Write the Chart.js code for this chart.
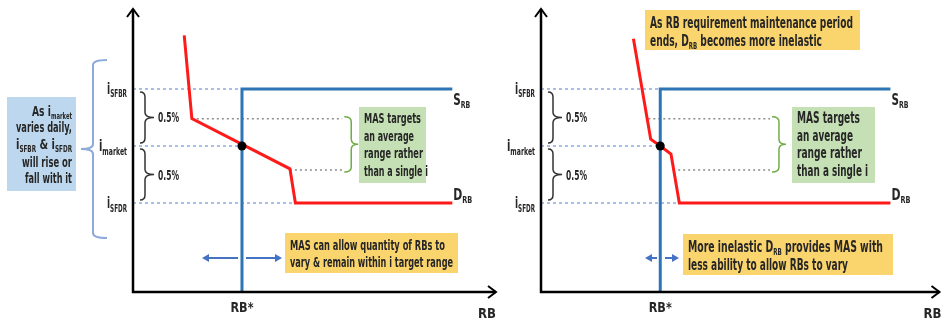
<!DOCTYPE html>
<html lang="en">
<head>
<meta charset="UTF-8">
<title>Reserve balances: SRB and DRB</title>
<script src="https://cdn.jsdelivr.net/npm/chart.js"></script>
<style>
  body { margin: 0; background: #fff; }
  .wrap { position: relative; width: 945px; height: 323px; }
  canvas { position: absolute; top: 0; }
  #left { left: 0; }
  #right { left: 490px; }
</style>
</head>
<body>
<div class="wrap">
  <canvas id="left" width="505" height="323"></canvas>
  <canvas id="right" width="455" height="323"></canvas>
</div>
<script>
const FONT = '"Liberation Sans Narrow", "DejaVu Sans Condensed", "Liberation Sans", Arial, sans-serif';
const INK = '#262626';

// interest rate levels (%), top to bottom
const rateLevels = [2.0, 1.5, 1.0];
const rateNames = ['i_{SFBR}', 'i_{market}', 'i_{SFDR}'];
const targetBand = [1.74, 1.29];
const rbStar = 100;
const xMax = [334, 335];
const yRange = [0.22, 2.71];

// supply of RBs (same in both panels)
const supplyX = [100, 100, 293];
const supplyY = [0.22, 2.0, 2.0];

// demand for RBs, left = normal, right = end of maintenance period
const demandX1 = [47, 54, 144, 149, 293];
const demandY1 = [2.47, 1.74, 1.30, 1.0, 1.0];
const demandX2 = [77.5, 92, 100, 109, 116, 293];
const demandY2 = [2.44, 1.56, 1.5, 1.43, 1.0, 1.0];

// dotted guide lines
const bandStart1 = [54, 144];
const bandStart2 = [90, 115];
const bandEnd = 192;
const sfdrGuideEnd = [149, 116];

function pts(xs, ys) {
  return xs.map((x, i) => ({ x: x, y: ys[i] }));
}

function buildDatasets(dX, dY, bStart, sfdrEnd) {
  const dashBlue = { borderColor: '#8eaadb', borderWidth: 1.5, borderDash: [3, 3], order: 5 };
  const dashGrey = { borderColor: '#8c8c8c', borderWidth: 1.5, borderDash: [2, 3], order: 5 };
  const ds = [];
  [rbStar, rbStar, sfdrEnd].forEach((end, i) => {
    ds.push(Object.assign({ data: pts([0, end], [rateLevels[i], rateLevels[i]]) }, dashBlue));
  });
  targetBand.forEach((r, i) => {
    ds.push(Object.assign({ data: pts([bStart[i], bandEnd], [r, r]) }, dashGrey));
  });
  ds.push({ data: pts(supplyX, supplyY), borderColor: '#2e75b6', borderWidth: 3, order: 3 });
  ds.push({ data: pts(dX, dY), borderColor: '#ff1a1a', borderWidth: 3, order: 2 });
  ds.push({
    data: [{ x: rbStar, y: rateLevels[1] }], showLine: false, order: 1,
    pointRadius: 4.5, pointBackgroundColor: '#000', pointBorderColor: '#000', pointBorderWidth: 0
  });
  ds.forEach(d => {
    if (d.showLine === undefined) d.showLine = true;
    if (d.pointRadius === undefined) d.pointRadius = 0;
    d.fill = false;
    d.borderJoinStyle = 'miter';
    d.clip = false;
  });
  return ds;
}

// text with _{subscript} parts, stretched to width w if given
function drawRich(ctx, str, x, y, size, align, w) {
  const parts = [];
  str.replace(/_\{([^}]*)\}|([^_]+)/g, (m, sub, txt) => {
    parts.push(sub !== undefined ? [sub, true] : [txt, false]);
  });
  const subSize = Math.round(size * 0.6);
  let total = 0;
  parts.forEach(p => {
    ctx.font = 'bold ' + (p[1] ? subSize : size) + 'px ' + FONT;
    p.push(ctx.measureText(p[0]).width);
    total += p[2];
  });
  const k = w ? w / total : 1;
  const width = total * k;
  let sx = x;
  if (align === 'right') sx = x - width;
  if (align === 'center') sx = x - width / 2;
  ctx.save();
  ctx.translate(sx, y);
  ctx.scale(k, 1);
  ctx.fillStyle = INK;
  ctx.textAlign = 'left';
  ctx.textBaseline = 'alphabetic';
  let cx = 0;
  parts.forEach(p => {
    ctx.font = 'bold ' + (p[1] ? subSize : size) + 'px ' + FONT;
    ctx.fillText(p[0], cx, p[1] ? size * 0.22 : 0);
    cx += p[2];
  });
  ctx.restore();
}

// curly brace; dir 1 points right, -1 points left
function brace(ctx, x, y1, y2, w, tip, dir) {
  const m = (y1 + y2) / 2, r = Math.min(5, (y2 - y1) / 5);
  const bx = x + dir * w;
  ctx.beginPath();
  ctx.moveTo(x, y1);
  ctx.quadraticCurveTo(bx, y1, bx, y1 + r);
  ctx.lineTo(bx, m - r);
  ctx.quadraticCurveTo(bx, m, bx + dir * tip, m);
  ctx.quadraticCurveTo(bx, m, bx, m + r);
  ctx.lineTo(bx, y2 - r);
  ctx.quadraticCurveTo(bx, y2, x, y2);
  ctx.stroke();
}

function arrow(ctx, x1, x2, y) {
  const d = x2 > x1 ? 1 : -1;
  ctx.beginPath();
  ctx.moveTo(x1, y);
  ctx.lineTo(x2 - d * 5, y);
  ctx.stroke();
  ctx.beginPath();
  ctx.moveTo(x2, y);
  ctx.lineTo(x2 - d * 7, y - 4);
  ctx.lineTo(x2 - d * 7, y + 4);
  ctx.closePath();
  ctx.fill();
}

function notesPlugin(cfg) {
  return {
    id: 'notes',
    afterDraw(chart) {
      const ctx = chart.ctx, a = chart.chartArea;
      const xs = chart.scales.x, ys = chart.scales.y;
      ctx.save();

      // axes with arrow heads
      ctx.strokeStyle = '#000';
      ctx.lineWidth = 2.5;
      ctx.beginPath();
      ctx.moveTo(a.left, a.top + 1);
      ctx.lineTo(a.left, a.bottom);
      ctx.lineTo(a.right - 1, a.bottom);
      ctx.stroke();
      ctx.lineWidth = 2;
      ctx.beginPath();
      ctx.moveTo(a.left - 6, a.top + 9);
      ctx.lineTo(a.left, a.top + 1);
      ctx.lineTo(a.left + 6, a.top + 9);
      ctx.moveTo(a.right - 9, a.bottom - 6);
      ctx.lineTo(a.right - 1, a.bottom);
      ctx.lineTo(a.right - 9, a.bottom + 6);
      ctx.stroke();

      // rate labels on the y axis
      const labelW = [20, 28, 20];
      rateLevels.forEach((lv, i) => {
        drawRich(ctx, rateNames[i], a.left - 6, ys.getPixelForValue(lv) + 5, 16, 'right', labelW[i]);
      });

      // 0.5% braces
      ctx.strokeStyle = '#333';
      ctx.lineWidth = 1.5;
      for (let i = 0; i < 2; i++) {
        const y1 = ys.getPixelForValue(rateLevels[i]) + 3;
        const y2 = ys.getPixelForValue(rateLevels[i + 1]) - 3;
        brace(ctx, a.left + 7, y1, y2, 5, 9, 1);
        drawRich(ctx, '0.5%', a.left + 25, (y1 + y2) / 2 + 5, 14, 'left', 21);
      }

      // target range bracket
      ctx.strokeStyle = '#70ad47';
      const gx = xs.getPixelForValue(bandEnd) + 2;
      brace(ctx, gx, ys.getPixelForValue(targetBand[0]) - 2, ys.getPixelForValue(targetBand[1]) + 2, 7, 7, 1);

      // curve and axis labels
      const sx = xs.getPixelForValue(supplyX[2]) + 1;
      drawRich(ctx, 'S_{RB}', sx, ys.getPixelForValue(rateLevels[0]) + 16, 15, 'left', 17);
      drawRich(ctx, 'D_{RB}', sx, ys.getPixelForValue(rateLevels[2]) - 3, 15, 'left', 19);
      drawRich(ctx, 'RB*', xs.getPixelForValue(rbStar), a.bottom + 20, 14, 'center', 23);
      drawRich(ctx, 'RB', a.right - cfg.rbLabelInset, a.bottom + 26, 14, 'center', 18);

      // boxes and notes in page coordinates
      ctx.translate(-cfg.offset, 0);
      cfg.boxes.forEach(b => {
        ctx.fillStyle = b.fill;
        ctx.fillRect(b.x, b.y, b.w, b.h);
      });
      cfg.texts.forEach(t => drawRich(ctx, t.s, t.x, t.y, t.size, t.align || 'left', t.w));

      ctx.strokeStyle = '#4472c4';
      ctx.fillStyle = '#4472c4';
      ctx.lineWidth = 2;
      cfg.arrows.forEach(ar => arrow(ctx, ar[0], ar[1], cfg.arrowY));

      if (cfg.bigBrace) {
        const bb = cfg.bigBrace;
        ctx.strokeStyle = '#8eaadb';
        ctx.lineWidth = 2;
        brace(ctx, bb.x, bb.y1, bb.y2, 14, 12, -1);
      }
      ctx.restore();
    }
  };
}

function makePanel(id, dX, dY, bStart, sfdrEnd, max, pad, cfg) {
  return new Chart(document.getElementById(id), {
    type: 'scatter',
    data: { datasets: buildDatasets(dX, dY, bStart, sfdrEnd) },
    options: {
      responsive: false,
      animation: false,
      devicePixelRatio: 1,
      layout: { padding: pad },
      scales: {
        x: { type: 'linear', min: 0, max: max, display: false },
        y: { type: 'linear', min: yRange[0], max: yRange[1], display: false }
      },
      plugins: { legend: { display: false }, tooltip: { enabled: false } },
      elements: { line: { tension: 0 } }
    },
    plugins: [notesPlugin(cfg)]
  });
}

makePanel('left', demandX1, demandY1, bandStart1, sfdrGuideEnd[0], xMax[0],
  { left: 133, right: 8, top: 8, bottom: 31 },
  {
    offset: 0,
    rbLabelInset: 10,
    boxes: [
      { x: 7, y: 97, w: 69, h: 94, fill: '#bdd7ee' },
      { x: 359, y: 107, w: 67, h: 76, fill: '#c5e0b4' },
      { x: 285, y: 233, w: 173, h: 40, fill: '#fad46c' }
    ],
    texts: [
      { s: 'As i_{market}', x: 72, y: 116, size: 14, align: 'right', w: 40 },
      { s: 'varies daily,', x: 72, y: 132, size: 14, align: 'right', w: 56 },
      { s: 'i_{SFBR} & i_{SFDR}', x: 72, y: 149, size: 14, align: 'right', w: 56 },
      { s: 'will rise or', x: 72, y: 167, size: 14, align: 'right', w: 50 },
      { s: 'fall with it', x: 72, y: 183, size: 14, align: 'right', w: 47 },
      { s: 'MAS targets', x: 364, y: 123, size: 14, w: 57 },
      { s: 'an average', x: 364, y: 141, size: 14, w: 50 },
      { s: 'range rather', x: 364, y: 158, size: 14, w: 59 },
      { s: 'than a single i', x: 364, y: 176, size: 14, w: 64 },
      { s: 'MAS can allow quantity of RBs to', x: 290, y: 250, size: 14, w: 155 },
      { s: 'vary & remain within i target range', x: 290, y: 267, size: 14, w: 163 }
    ],
    arrowY: 258,
    arrows: [[238, 202], [246, 282]],
    bigBrace: { x: 107, y1: 60, y2: 238 }
  });

makePanel('right', demandX2, demandY2, bandStart2, sfdrGuideEnd[1], xMax[1],
  { left: 51, right: 2, top: 8, bottom: 31 },
  {
    offset: 490,
    rbLabelInset: 8,
    boxes: [
      { x: 645, y: 10, w: 215, h: 40, fill: '#fad46c' },
      { x: 792, y: 107, w: 83, h: 76, fill: '#c5e0b4' },
      { x: 683, y: 234, w: 210, h: 41, fill: '#fad46c' }
    ],
    texts: [
      { s: 'As RB requirement maintenance period', x: 650, y: 28, size: 15, w: 203 },
      { s: 'ends, D_{RB} becomes more inelastic', x: 650, y: 46, size: 15, w: 172 },
      { s: 'MAS targets', x: 797, y: 123, size: 15, w: 63 },
      { s: 'an average', x: 797, y: 141, size: 15, w: 56 },
      { s: 'range rather', x: 797, y: 158, size: 15, w: 65 },
      { s: 'than a single i', x: 797, y: 176, size: 15, w: 71 },
      { s: 'More inelastic D_{RB} provides MAS with', x: 688, y: 252, size: 15, w: 195 },
      { s: 'less ability to allow RBs to vary', x: 688, y: 270, size: 15, w: 160 }
    ],
    arrowY: 258,
    arrows: [[657, 645], [665, 679]]
  });
</script>
</body>
</html>
